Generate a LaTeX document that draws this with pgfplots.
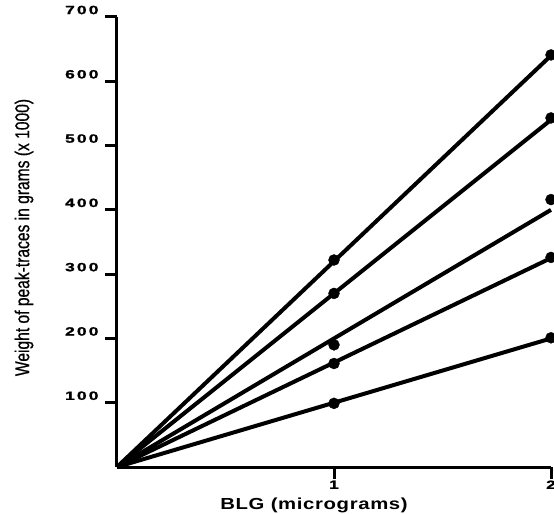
\documentclass[border=0pt]{standalone}
\usepackage{fontspec}
\setmainfont{Liberation Sans}
\newfontfamily\tickfont[FakeStretch=1.45,LetterSpace=18,FakeBold=1.5]{Liberation Sans}
\newfontfamily\xlabfont[FakeStretch=1.27,LetterSpace=4]{Liberation Sans}
\newfontfamily\ylabfont[FakeStretch=0.78,FakeBold=0.6]{Liberation Sans}
\usepackage{pgfplots}
\pgfplotsset{compat=1.18}

\begin{document}
\begin{tikzpicture}
\path[use as bounding box, clip] (-117bp,-47bp) rectangle (437bp,467bp);
\begin{axis}[
    at={(0,0)}, anchor=south west,
    scale only axis,
    width=434bp, height=450bp,
    xmin=0, xmax=2, ymin=0, ymax=700,
    axis x line*=bottom, axis y line*=left,
    axis line style={line width=3bp, black},
    xtick={1,2}, ytick={100,200,...,700},
    tick align=outside,
    major tick length=12bp,
    tick style={line width=3bp, black},
    /pgf/number format/assume math mode=true,
    ticklabel style={font=\tickfont\bfseries\fontsize{12bp}{14bp}\selectfont},
    yticklabel style={yshift=7bp, xshift=-3bp},
    xticklabel style={yshift=2bp},
    xlabel={BLG (micrograms)},
    xlabel style={font=\xlabfont\bfseries\fontsize{16bp}{18bp}\selectfont,
        at={(axis description cs:0.454,0)}, anchor=base, yshift=-42bp},
    ylabel={Weight of peak-traces in grams (x 1000)},
    ylabel style={font=\ylabfont\fontsize{20bp}{22bp}\selectfont,
        at={(axis description cs:0,0.51)}, anchor=center, yshift=93bp},
    clip=false,
]
% fitted lines through the origin
\addplot[black, line width=4bp, no marks] coordinates {(0,0) (2,640)};
\addplot[black, line width=4bp, no marks] coordinates {(0,0) (2,540)};
\addplot[black, line width=4bp, no marks] coordinates {(0,0) (2,400)};
\addplot[black, line width=4bp, no marks] coordinates {(0,0) (2,325)};
\addplot[black, line width=4bp, no marks] coordinates {(0,0) (2,200)};
% measured points
\addplot[black, only marks, mark=*, mark size=5.5bp] coordinates {
    (1,322) (1,270) (1,190) (1,161) (1,99)
    (2,641) (2,543) (2,416) (2,326) (2,201)
};
\end{axis}
\end{tikzpicture}
\end{document}
